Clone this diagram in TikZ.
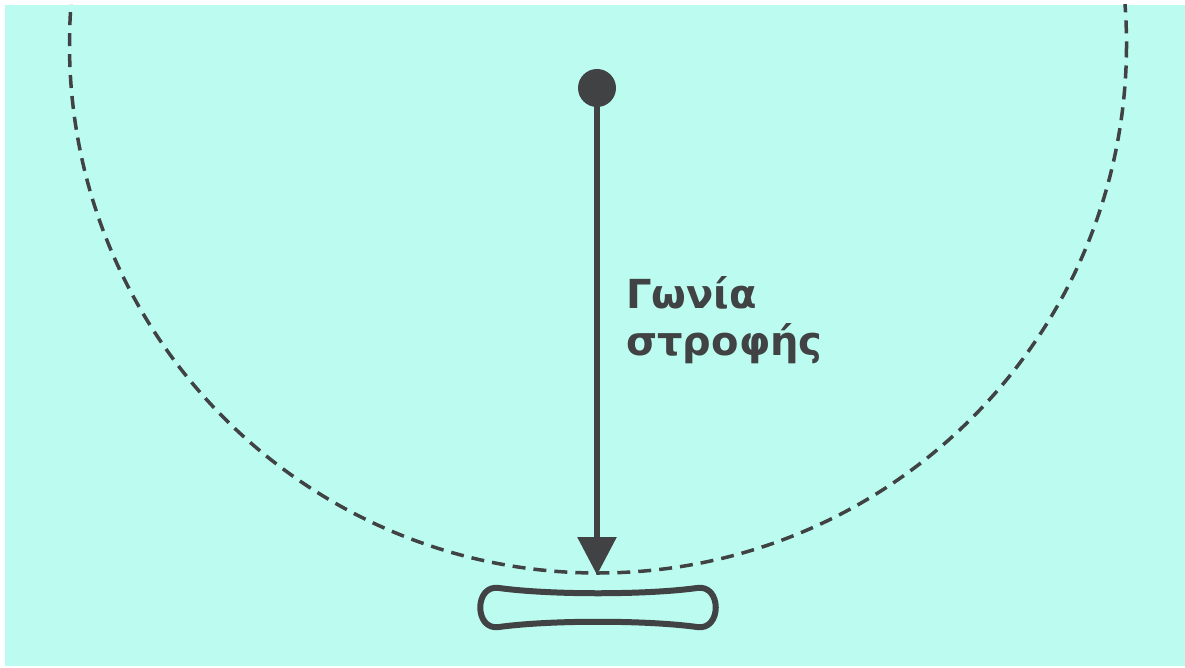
\documentclass[tikz,border=0pt]{standalone}
\usepackage{fontspec}
\setmainfont{DejaVu Sans}
\usetikzlibrary{arrows.meta}
\definecolor{bgcyan}{RGB}{188,252,240}
\definecolor{ink}{RGB}{64,66,68}
\tikzset{
  ring/.style={draw=ink, line width=3.5pt, dash pattern=on 13pt off 8pt},
  pointer/.style={draw=ink, line width=6pt, -{Triangle[length=38pt,width=38pt]}},
  pivot/.style={circle, fill=ink, inner sep=0pt, minimum size=38pt},
  label/.style={text=ink, font=\fontsize{40}{47}\selectfont\bfseries, align=left, anchor=north west, inner sep=0pt},
  board/.style={draw=ink, line width=6pt, line join=round}
}
\begin{document}
\begin{tikzpicture}[x=1pt,y=-1pt]
\useasboundingbox (0,0) rectangle (1185,668);
\fill[white] (0,0) rectangle (1185,668);
\fill[bgcyan] (5,5) rectangle (1185,666);
\begin{scope}
\clip (5,5) rectangle (1185,666);
\draw[ring] (598,44.5) circle[radius=528.5];
\end{scope}
\node[pivot] (dot) at (597,88) {};
\coordinate (tip) at (597,575);
\draw[pointer] (dot.center) -- (tip);
\node[label] (txt) at (626,276) {Γωνία\\στροφής};
\draw[board] (499,588) .. controls (550,595) and (646,595) .. (697,588)
  .. controls (722,584) and (722,631) .. (697,627)
  .. controls (646,620) and (550,620) .. (499,627)
  .. controls (474,631) and (474,584) .. (499,588) -- cycle;
\end{tikzpicture}
\end{document}
